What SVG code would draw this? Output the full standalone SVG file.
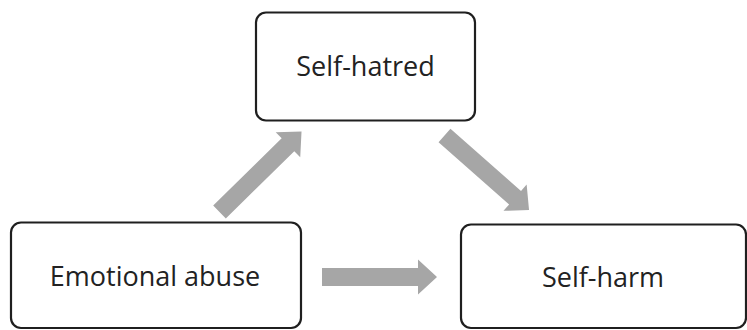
<svg xmlns="http://www.w3.org/2000/svg" width="747" height="330" viewBox="0 0 747 330">
  <defs>
    <style>
      .box { fill: #ffffff; stroke: #1f1f1f; stroke-width: 2.2; }
      .lbl { font-family: "Open Sans", "Noto Sans", "Liberation Sans", sans-serif; font-size: 27px; fill: #222222; text-anchor: middle; }
      .arr { fill: #a6a6a6; stroke: none; }
    </style>
    <path id="arrowShape" d="M0,-9 H96 V-17.5 L115,0 L96,17.5 V9 H0 Z"/>
  </defs>
  <rect width="747" height="330" fill="#ffffff"/>
  <g id="connectors">
    <use href="#arrowShape" class="arr" transform="translate(219.5,212) rotate(-44.5)"/>
    <use href="#arrowShape" class="arr" transform="translate(444.5,135.5) rotate(41.4) scale(0.98,1)"/>
    <use href="#arrowShape" class="arr" transform="translate(322,277)"/>
  </g>
  <g id="self-hatred">
    <rect class="box" x="256" y="12.5" width="219" height="108" rx="10"/>
    <text class="lbl" x="365.5" y="75.5">Self-hatred</text>
  </g>
  <g id="emotional-abuse">
    <rect class="box" x="11" y="222.5" width="290" height="105.5" rx="10"/>
    <text class="lbl" x="155" y="286">Emotional abuse</text>
  </g>
  <g id="self-harm">
    <rect class="box" x="461" y="224.5" width="285" height="103.5" rx="10"/>
    <text class="lbl" x="603" y="286.5">Self-harm</text>
  </g>
</svg>
